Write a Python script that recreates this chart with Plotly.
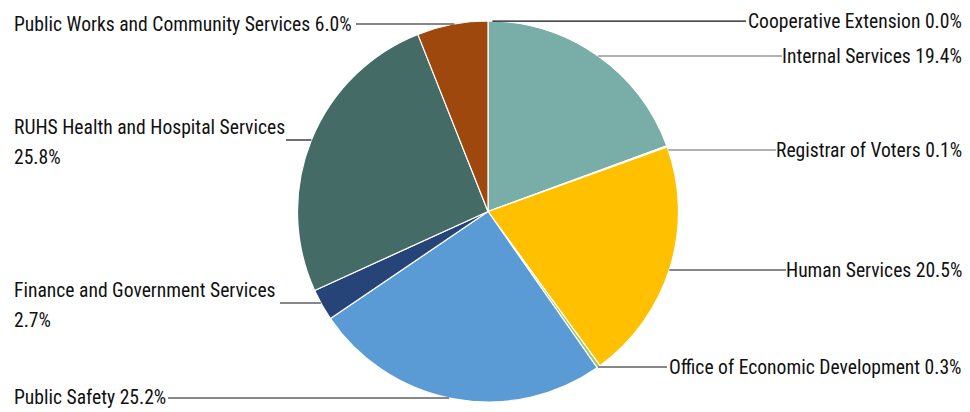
import math
import plotly.graph_objects as go

# ---- data ----
departments = [
    "Cooperative Extension",
    "Internal Services",
    "Registrar of Voters",
    "Human Services",
    "Office of Economic Development",
    "Public Safety",
    "Finance and Government Services",
    "RUHS Health and Hospital Services",
    "Public Works and Community Services",
]
shares = [0.0, 19.4, 0.1, 20.5, 0.3, 25.2, 2.7, 25.8, 6.0]
colors = ["#A5A5A5", "#79ADA7", "#ED7D31", "#FFC000", "#9BC865",
          "#5B9BD5", "#264478", "#446B66", "#9E480E"]

# ---- layout helpers (window pixels) ----
W, H = 970, 412
OFF = 8  # page body margin
FW, FH = W - OFF, H - OFF
CX, CY, R = 488.0, 211.5, 190.5

# label layout: side, text line y positions, leader y, leader x at text side, line colour
label_layout = [
    ("right", [21], 21.05, 746, "#111111"),
    ("right", [56], 56, 782, "#666666"),
    ("right", [150], 150, 776, "#666666"),
    ("right", [270], 270, 786, "#111111"),
    ("right", [367], 367, 667, "#111111"),
    ("left", [397], 398, 168, "#111111"),
    ("left", [290, 320], 303, 280, "#111111"),
    ("left", [127, 157], 140, 286, "#111111"),
    ("left", [24], 24, 356, "#111111"),
]

FONT = "Roboto Condensed, Liberation Sans Narrow, DejaVu Sans Condensed, sans-serif"
FS = 19.6


def px(x):
    return (x - OFF) / FW


def py(y):
    return 1 - (y - OFF) / FH


fig = go.Figure(go.Pie(
    labels=departments,
    values=shares,
    sort=False,
    direction="clockwise",
    rotation=0,
    textinfo="none",
    hoverinfo="label+percent",
    marker=dict(colors=colors, line=dict(color="white", width=1.2)),
    domain=dict(x=[px(CX - R), px(CX + R)], y=[py(CY + R), py(CY - R)]),
    showlegend=False,
))

annotations = []
shapes = []
for name, val, (side, ys, ly, lx, lc) in zip(departments, shares, label_layout):
    pct = f"{val:.1f}%"
    lines = [f"{name} {pct}"] if len(ys) == 1 else [name, pct]
    for t, y in zip(lines, ys):
        annotations.append(dict(
            text=t, x=px(964 if side == "right" else 12), y=py(y),
            xref="paper", yref="paper",
            xanchor="right" if side == "right" else "left", yanchor="middle",
            showarrow=False, font=dict(family=FONT, size=FS, color="#111111"),
        ))
    dy = ly - CY
    dx = math.sqrt(max(R * R - dy * dy, 0.0))
    ex = CX + dx if side == "right" else CX - dx
    shapes.append(dict(
        type="line", xref="paper", yref="paper",
        x0=px(ex), y0=py(ly), x1=px(lx), y1=py(ly),
        line=dict(color=lc, width=1.2),
    ))

fig.update_layout(
    width=FW, height=FH,
    margin=dict(l=0, r=0, t=0, b=0),
    paper_bgcolor="white",
    plot_bgcolor="white",
    annotations=annotations,
    shapes=shapes,
)

fig.write_html("out.html")
